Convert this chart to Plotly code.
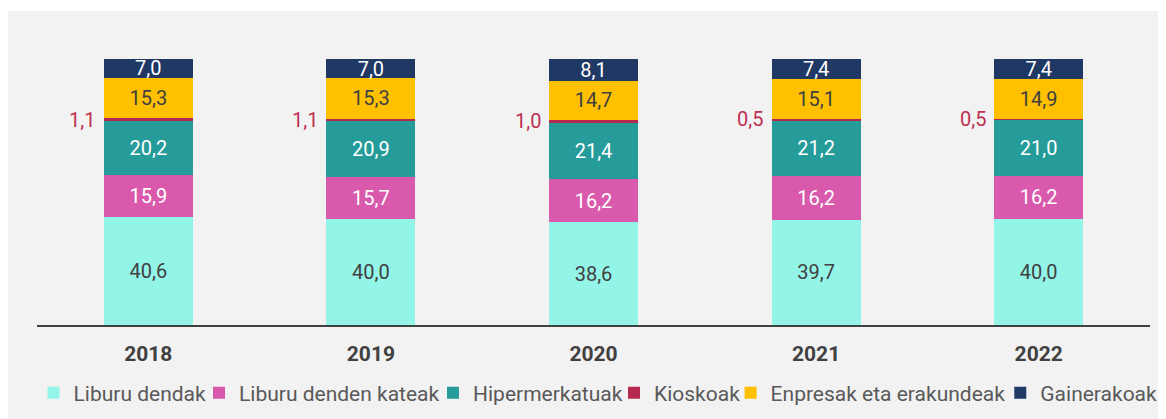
import plotly.graph_objects as go

years = ["2018", "2019", "2020", "2021", "2022"]
liburu_dendak = [40.6, 40.0, 38.6, 39.7, 40.0]
liburu_denden_kateak = [15.9, 15.7, 16.2, 16.2, 16.2]
hipermerkatuak = [20.2, 20.9, 21.4, 21.2, 21.0]
kioskoak = [1.1, 1.1, 1.0, 0.5, 0.5]
enpresak = [15.3, 15.3, 14.7, 15.1, 14.9]
gainerakoak = [7.0, 7.0, 8.1, 7.4, 7.4]

series = [
    ("Liburu dendak", liburu_dendak, "#93F4E8", "#404040", True),
    ("Liburu denden kateak", liburu_denden_kateak, "#D95AAC", "#FFFFFF", True),
    ("Hipermerkatuak", hipermerkatuak, "#259B9A", "#FFFFFF", True),
    ("Kioskoak", kioskoak, "#B5294E", "#FFFFFF", False),
    ("Enpresak eta erakundeak", enpresak, "#FFC000", "#404040", True),
    ("Gainerakoak", gainerakoak, "#1F3864", "#FFFFFF", True),
]

FONT = "Roboto"
W, H = 1158, 411
L, R, T, B = 29, 1142, 51, 317  # plot area in px (figure coords)
pw, ph = R - L, B - T
def px_x(v): return (v - L) / pw
def px_y(v): return (B - v) / ph

# left edge (px, figure coords) of each one-item legend
legend_left_px = [25.5, 191, 425, 606, 722.6, 992.3]
legend_ids = ["legend", "legend2", "legend3", "legend4", "legend5", "legend6"]

fig = go.Figure()
for k, (name, vals, col, tcol, show_text) in enumerate(series):
    fig.add_trace(go.Bar(
        x=years, y=vals, name=name,
        marker=dict(color=col, line=dict(width=0)),
        texttemplate="%{y:.1f}" if show_text else None,
        textposition="inside" if show_text else "none",
        insidetextanchor="middle",
        constraintext="none",
        textangle=0,
        insidetextfont=dict(family=FONT, size=20, color=tcol),
        hoverinfo="skip",
        legend=legend_ids[k],
    ))

# Kioskoak labels outside, to the left of each bar
for i, yr in enumerate(years):
    base = liburu_dendak[i] + liburu_denden_kateak[i] + hipermerkatuak[i]
    fig.add_annotation(
        x=i, y=base + kioskoak[i] / 2, xref="x", yref="y",
        text=f"{kioskoak[i]:.1f}".replace(".", ","),
        showarrow=False, xanchor="right", yanchor="middle",
        xshift=-51,
        font=dict(family=FONT, size=20, color="#BE2F52"),
    )

fig.add_shape(type="rect", xref="paper", yref="paper",
              x0=px_x(0), x1=px_x(1180), y0=px_y(430), y1=px_y(3),
              fillcolor="#F2F2F2", line=dict(width=0), layer="below")

legend_layouts = {}
for k, lid in enumerate(legend_ids):
    legend_layouts[lid] = dict(
        orientation="h", x=px_x(legend_left_px[k]), xanchor="left",
        y=px_y(385), yanchor="middle",
        font=dict(family=FONT, size=21, color="#595959"),
        bgcolor="rgba(0,0,0,0)", borderwidth=0, itemwidth=30,
    )

fig.update_layout(
    width=W, height=H,
    margin=dict(l=L, r=W - R, t=T, b=H - B, pad=0, autoexpand=False),
    barmode="stack", bargap=0.6,
    separators=", ",
    paper_bgcolor="#FFFFFF", plot_bgcolor="rgba(0,0,0,0)",
    font=dict(family=FONT, size=20, color="#595959"),
    showlegend=True,
    xaxis=dict(type="category", categoryorder="array", categoryarray=years,
               range=[-0.5, len(years) - 0.5], autorange=False,
               showline=True, linecolor="#404040", linewidth=2,
               showgrid=False, zeroline=False, ticks="",
               ticklabelstandoff=9,
               tickfont=dict(family=FONT, size=21, color="#404040", weight="bold")),
    yaxis=dict(visible=False, range=[0, 100.1], autorange=False,
               showgrid=False, zeroline=False),
    **legend_layouts,
)

fig.write_html("out.html")
